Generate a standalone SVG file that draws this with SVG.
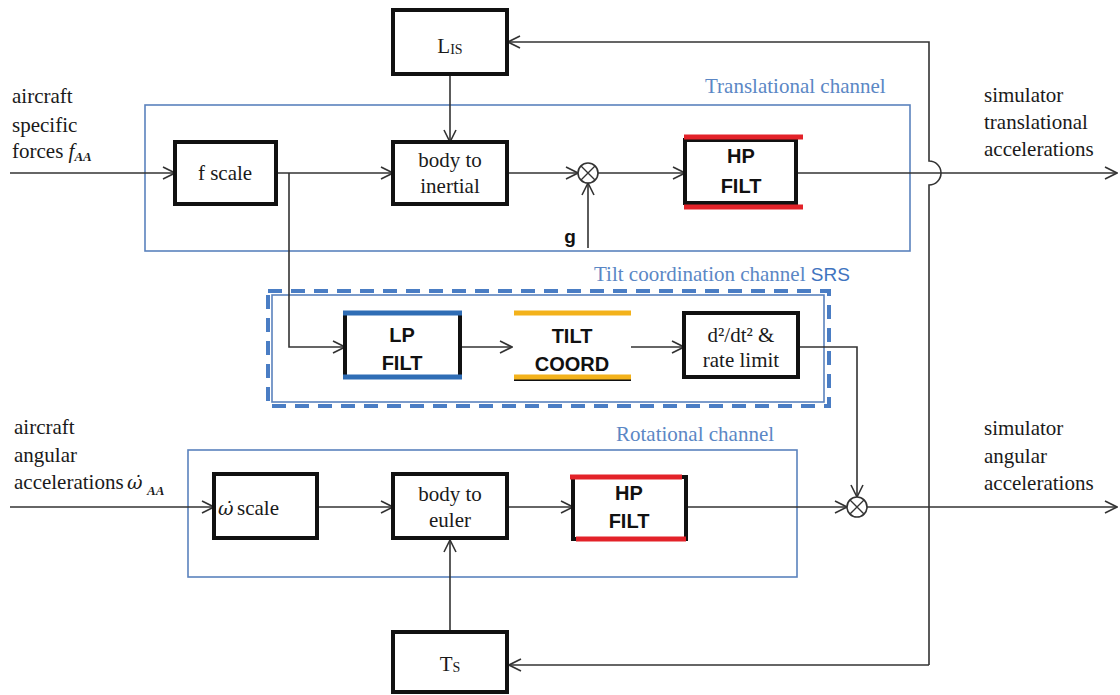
<svg xmlns="http://www.w3.org/2000/svg" width="1120" height="695" viewBox="0 0 1120 695">
<style>
.box{fill:#fff;stroke:#111;stroke-width:4}
.conn{fill:none;stroke:#333;stroke-width:1.6}
.chan{fill:none;stroke:#5a82bd;stroke-width:1.6}
.t{font-family:"Liberation Serif","Times New Roman",serif;font-size:21px;fill:#1a1a1a}
.c{text-anchor:middle}
.b{font-family:"Liberation Sans",Arial,sans-serif;font-size:20px;font-weight:bold;fill:#111;text-anchor:middle}
.bl{font-family:"Liberation Serif","Times New Roman",serif;font-size:21px;fill:#5b87c5}
.sub{font-size:13px;font-style:italic;font-weight:bold}
.om{font-family:"DejaVu Serif",serif;font-style:italic;font-size:19px}
.red{stroke:#e32229;stroke-width:5;fill:none}
.blue{stroke:#2f6db5;stroke-width:5;fill:none}
.org{stroke:#f3b21b;stroke-width:5;fill:none}
</style>
<defs>
<marker id="arr" viewBox="0 0 14 14" refX="13" refY="7" markerWidth="14" markerHeight="14" markerUnits="userSpaceOnUse" orient="auto">
<path d="M1,1 L13,7 L1,13" fill="none" stroke="#333" stroke-width="1.6"/>
</marker>
</defs>
<rect width="1120" height="695" fill="#fff"/>

<g id="channels">
<rect class="chan" x="145" y="105" width="765" height="146"/>
<text class="bl" x="705" y="93">Translational channel</text>
<rect x="268" y="291" width="561" height="115" fill="none" stroke="#4a7dc4" stroke-width="4" stroke-dasharray="14 9"/>
<rect class="chan" x="272" y="295" width="552" height="107" stroke-width="1.2"/>
<text class="bl" x="594" y="281">Tilt coordination channel <tspan style="font-family:'Liberation Sans',Arial,sans-serif;font-size:19px" fill="#3f74bf">SRS</tspan></text>
<rect class="chan" x="188" y="450" width="609" height="127"/>
<text class="bl" x="616" y="441">Rotational channel</text>
</g>

<g id="labels">
<text class="t" x="12" y="103">aircraft</text>
<text class="t" x="12" y="132">specific</text>
<text class="t" x="12" y="158">forces <tspan font-style="italic">f</tspan><tspan class="sub" dy="3">AA</tspan></text>
<text class="t" x="14" y="434">aircraft</text>
<text class="t" x="14" y="462">angular</text>
<text class="t" x="14" y="489">accelerations <tspan class="om" x="127">ω̇</tspan><tspan class="sub" x="147" dy="6">AA</tspan></text>
<text class="t" x="984" y="102">simulator</text>
<text class="t" x="984" y="129">translational</text>
<text class="t" x="984" y="156">accelerations</text>
<text class="t" x="984" y="435">simulator</text>
<text class="t" x="984" y="463">angular</text>
<text class="t" x="984" y="490">accelerations</text>
<text class="b" x="570" y="243" style="font-size:19px">g</text>
</g>

<g id="connectors">
<path class="conn" d="M10,173 H175" marker-end="url(#arr)"/>
<path class="conn" d="M276,173 H393" marker-end="url(#arr)"/>
<path class="conn" d="M507,173 H578" marker-end="url(#arr)"/>
<path class="conn" d="M588,248 V183" marker-end="url(#arr)"/>
<path class="conn" d="M598,173 H685" marker-end="url(#arr)"/>
<path class="conn" d="M797,173 H1117" marker-end="url(#arr)"/>
<path class="conn" d="M929,665 V185 A12,12 0 0 0 929,161 V42 H508" marker-end="url(#arr)"/>
<path class="conn" d="M929,665 H509" marker-end="url(#arr)"/>
<path class="conn" d="M450,74 V142" marker-end="url(#arr)"/>
<path class="conn" d="M289,173 V347 H345" marker-end="url(#arr)"/>
<path class="conn" d="M460,347 H512" marker-end="url(#arr)"/>
<path class="conn" d="M631,347 H684" marker-end="url(#arr)"/>
<path class="conn" d="M798,347 H857 V497" marker-end="url(#arr)"/>
<path class="conn" d="M10,507 H214" marker-end="url(#arr)"/>
<path class="conn" d="M317,507 H393" marker-end="url(#arr)"/>
<path class="conn" d="M507,507 H573" marker-end="url(#arr)"/>
<path class="conn" d="M687,507 H847" marker-end="url(#arr)"/>
<path class="conn" d="M867,507 H1117" marker-end="url(#arr)"/>
<path class="conn" d="M450,632 V540" marker-end="url(#arr)"/>
</g>

<g id="sum1">
<circle cx="588" cy="173" r="10" fill="#fff" stroke="#333" stroke-width="1.6"/>
<path d="M581,166 L595,180 M595,166 L581,180" stroke="#333" stroke-width="1.4"/>
</g>
<g id="sum2">
<circle cx="857" cy="507" r="10" fill="#fff" stroke="#333" stroke-width="1.6"/>
<path d="M850,500 L864,514 M864,500 L850,514" stroke="#333" stroke-width="1.4"/>
</g>

<g id="LIS">
<rect class="box" x="393" y="10" width="114" height="64"/>
<text class="t c" x="450" y="53">L<tspan style="font-size:14px" dy="1">IS</tspan></text>
</g>
<g id="fscale">
<rect class="box" x="175" y="142" width="101" height="62"/>
<text class="t c" x="225" y="180">f scale</text>
</g>
<g id="bodyInertial">
<rect class="box" x="393" y="142" width="114" height="62"/>
<text class="t c" x="450" y="167">body to</text>
<text class="t c" x="450" y="193">inertial</text>
</g>
<g id="hpTrans">
<rect class="box" x="685" y="140" width="111" height="63"/>
<path class="red" d="M684,137 H803 M684,207 H803"/>
<text class="b" x="741" y="163">HP</text>
<text class="b" x="741" y="193">FILT</text>
</g>
<g id="lpFilt">
<rect class="box" x="345" y="313" width="115" height="64"/>
<path class="blue" d="M343,313 H462 M343,377 H462"/>
<text class="b" x="402" y="342">LP</text>
<text class="b" x="402" y="370">FILT</text>
</g>
<g id="tiltCoord">
<path d="M514,380 H631" stroke="#111" stroke-width="2"/>
<path class="org" d="M514,313 H631 M514,377 H631"/>
<text class="b" x="572" y="343">TILT</text>
<text class="b" x="572" y="371">COORD</text>
</g>
<g id="rateLimit">
<rect class="box" x="684" y="313" width="114" height="64"/>
<text class="t c" x="741" y="342">d²/dt² &amp;</text>
<text class="t c" x="741" y="367">rate limit</text>
</g>
<g id="wscale">
<rect class="box" x="214" y="474" width="103" height="64"/>
<text class="t" x="218" y="515"><tspan class="om">ω̇</tspan><tspan x="237">scale</tspan></text>
</g>
<g id="bodyEuler">
<rect class="box" x="393" y="474" width="114" height="64"/>
<text class="t c" x="450" y="501">body to</text>
<text class="t c" x="450" y="527">euler</text>
</g>
<g id="hpRot">
<rect class="box" x="573" y="477" width="113" height="62"/>
<path class="red" d="M570,477 H682 M576,539 H686"/>
<text class="b" x="629" y="500">HP</text>
<text class="b" x="629" y="528">FILT</text>
</g>
<g id="TS">
<rect class="box" x="393" y="632" width="114" height="60"/>
<text class="t c" x="450" y="671">T<tspan style="font-size:14px" dy="1">S</tspan></text>
</g>
</svg>
